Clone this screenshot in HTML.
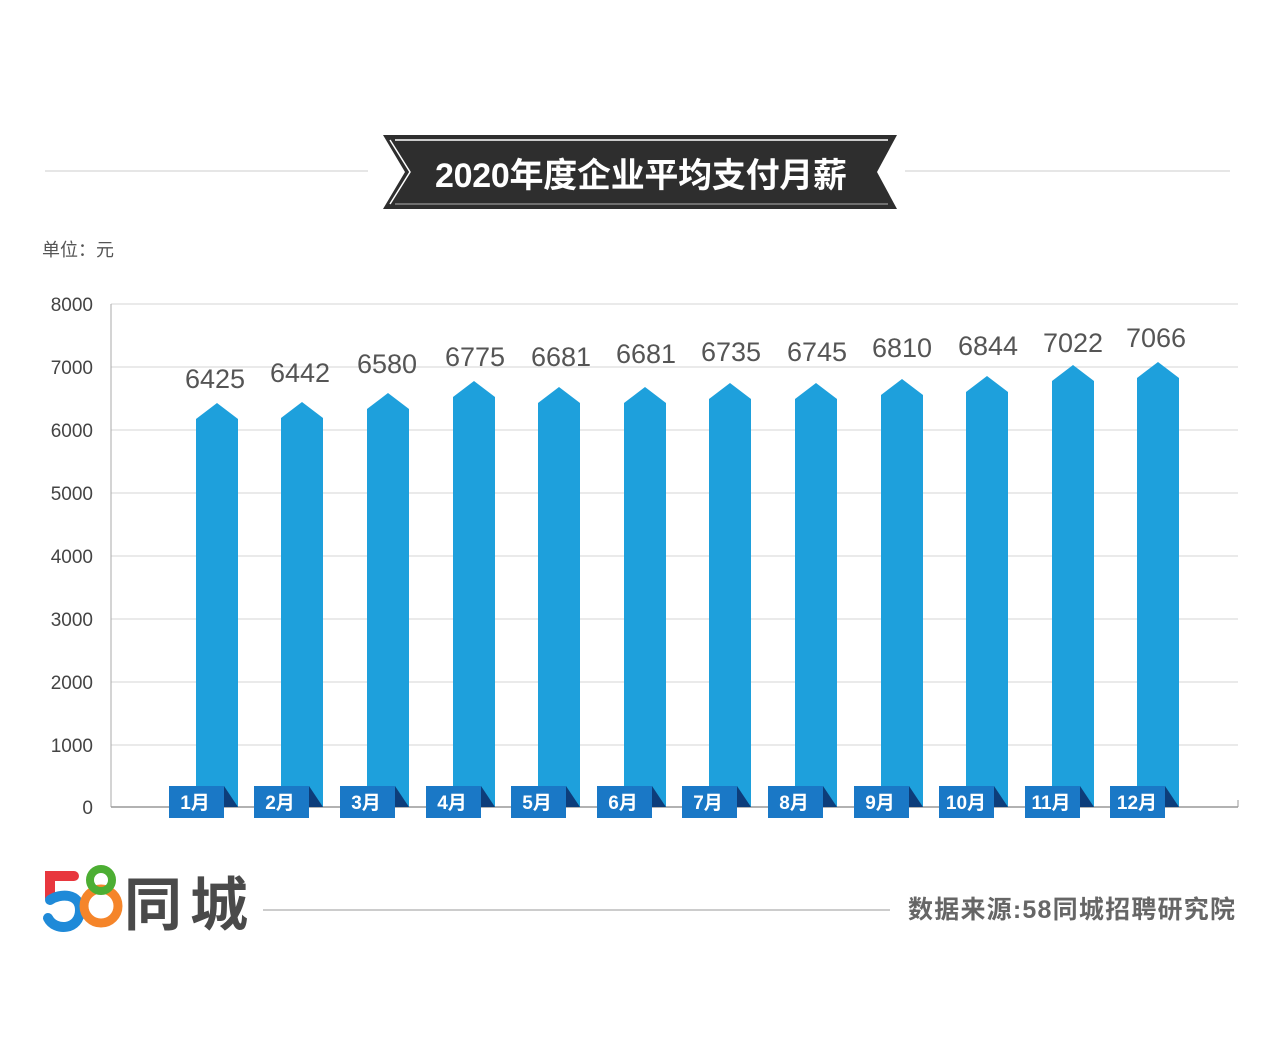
<!DOCTYPE html>
<html><head><meta charset="utf-8"><style>
html,body{margin:0;padding:0;background:#fff;width:1280px;height:1051px;overflow:hidden}
svg{display:block}
text{font-family:"Liberation Sans","Noto Sans CJK SC",sans-serif}
</style></head><body>
<svg width="1280" height="1051" viewBox="0 0 1280 1051" xmlns="http://www.w3.org/2000/svg">
<line x1="45" y1="171" x2="368" y2="171" stroke="#ddd" stroke-width="1.5"/>
<line x1="905" y1="171" x2="1230" y2="171" stroke="#ddd" stroke-width="1.5"/>
<polygon points="383,135 897,135 877,172 897,209 383,209 405,172" fill="#2e2e2e"/>
<polyline points="395,140 888,140" stroke="#fff" stroke-width="1.5" fill="none"/>
<polyline points="390,140 410,172 390,204" stroke="#fff" stroke-width="1.5" fill="none"/>
<polyline points="888,204 395,204" stroke="#fff" stroke-width="1.2" fill="none" opacity="0.5"/>
<text x="641" y="187" text-anchor="middle" font-size="34" font-weight="bold" fill="#fff" textLength="412">2020年度企业平均支付月薪</text>
<text x="42" y="256" font-size="18" fill="#555">单位：元</text>
<g stroke="#d6d6d6" stroke-width="1">
<line x1="111" y1="304" x2="1238" y2="304"/><line x1="111" y1="367" x2="1238" y2="367"/>
<line x1="111" y1="430" x2="1238" y2="430"/><line x1="111" y1="493" x2="1238" y2="493"/>
<line x1="111" y1="556" x2="1238" y2="556"/><line x1="111" y1="619" x2="1238" y2="619"/>
<line x1="111" y1="682" x2="1238" y2="682"/><line x1="111" y1="745" x2="1238" y2="745"/>
</g>
<line x1="111" y1="304" x2="111" y2="807" stroke="#aaa"/>
<line x1="111" y1="807" x2="1238" y2="807" stroke="#999" stroke-width="1.5"/>
<line x1="1238" y1="800" x2="1238" y2="807" stroke="#999"/>
<g font-size="19" fill="#444" text-anchor="end">
<text x="93" y="311">8000</text><text x="93" y="374">7000</text><text x="93" y="437">6000</text>
<text x="93" y="500">5000</text><text x="93" y="563">4000</text><text x="93" y="626">3000</text>
<text x="93" y="689">2000</text><text x="93" y="752">1000</text><text x="93" y="814">0</text>
</g>
<g fill="#1ea0dc">
<polygon points="196,807 196,419 217,403 238,419 238,807"/>
<polygon points="281,807 281,418 302,402 323,418 323,807"/>
<polygon points="367,807 367,409 388,393 409,409 409,807"/>
<polygon points="453,807 453,397 474,381 495,397 495,807"/>
<polygon points="538,807 538,403 559,387 580,403 580,807"/>
<polygon points="624,807 624,403 645,387 666,403 666,807"/>
<polygon points="709,807 709,399 730,383 751,399 751,807"/>
<polygon points="795,807 795,399 816,383 837,399 837,807"/>
<polygon points="881,807 881,395 902,379 923,395 923,807"/>
<polygon points="966,807 966,392 987,376 1008,392 1008,807"/>
<polygon points="1052,807 1052,381 1073,365 1094,381 1094,807"/>
<polygon points="1137,807 1137,378 1158,362 1179,378 1179,807"/>
</g>
<g font-size="27" fill="#555" text-anchor="middle">
<text x="215" y="388">6425</text><text x="300" y="382">6442</text><text x="387" y="373">6580</text>
<text x="475" y="366">6775</text><text x="561" y="366">6681</text><text x="646" y="363">6681</text>
<text x="731" y="361">6735</text><text x="817" y="361">6745</text><text x="902" y="357">6810</text>
<text x="988" y="355">6844</text><text x="1073" y="352">7022</text><text x="1156" y="347">7066</text>
</g>
<g fill="#1a78c6">
<rect x="169" y="786" width="55" height="32"/><rect x="254" y="786" width="55" height="32"/>
<rect x="340" y="786" width="55" height="32"/><rect x="426" y="786" width="55" height="32"/>
<rect x="511" y="786" width="55" height="32"/><rect x="597" y="786" width="55" height="32"/>
<rect x="682" y="786" width="55" height="32"/><rect x="768" y="786" width="55" height="32"/>
<rect x="854" y="786" width="55" height="32"/><rect x="939" y="786" width="55" height="32"/>
<rect x="1025" y="786" width="55" height="32"/><rect x="1110" y="786" width="55" height="32"/>
</g>
<g fill="#0d3d7a">
<polygon points="224,786 238,807 224,807"/><polygon points="309,786 323,807 309,807"/>
<polygon points="395,786 409,807 395,807"/><polygon points="481,786 495,807 481,807"/>
<polygon points="566,786 580,807 566,807"/><polygon points="652,786 666,807 652,807"/>
<polygon points="737,786 751,807 737,807"/><polygon points="823,786 837,807 823,807"/>
<polygon points="909,786 923,807 909,807"/><polygon points="994,786 1008,807 994,807"/>
<polygon points="1080,786 1094,807 1080,807"/><polygon points="1165,786 1179,807 1165,807"/>
</g>
<g font-size="19" fill="#fff" text-anchor="middle" font-weight="bold">
<text x="195" y="809">1月</text><text x="280" y="809">2月</text><text x="366" y="809">3月</text>
<text x="452" y="809">4月</text><text x="537" y="809">5月</text><text x="623" y="809">6月</text>
<text x="708" y="809">7月</text><text x="794" y="809">8月</text><text x="880" y="809">9月</text>
<text x="966" y="809">10月</text><text x="1051" y="809">11月</text><text x="1137" y="809">12月</text>
</g>
<path d="M74 876 H50 V898" stroke="#e8373e" stroke-width="10" fill="none" stroke-linecap="round"/>
<path d="M50 900 C60 893 80 893 80 910 C80 930 55 932 48 918" stroke="#1f8ad8" stroke-width="10" fill="none" stroke-linecap="round"/>
<circle cx="101" cy="906" r="17" stroke="#f5852a" stroke-width="9" fill="none"/>
<circle cx="101" cy="880" r="11" stroke="#4cae33" stroke-width="8" fill="none"/>
<text x="124" y="925" font-size="58" font-weight="bold" fill="#4a4a4a" textLength="124">同城</text>
<line x1="263" y1="910" x2="890" y2="910" stroke="#999" stroke-width="1"/>
<text x="908" y="918" font-size="25" fill="#666" font-weight="bold" textLength="327">数据来源:58同城招聘研究院</text>
</svg>
</body></html>
